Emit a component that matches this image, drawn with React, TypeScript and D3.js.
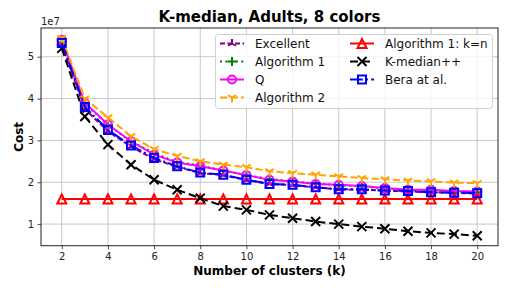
import React, { useEffect, useRef } from 'react';
import * as d3 from 'd3';

// cost values are in units of 1e7
const clusters = [2, 3, 4, 5, 6, 7, 8, 9, 10, 11, 12, 13, 14, 15, 16, 17, 18, 19, 20];
const excellent = [5.30, 3.75, 3.22, 2.85, 2.55, 2.37, 2.22, 2.17, 2.05, 1.96, 1.93, 1.88, 1.83, 1.82, 1.80, 1.78, 1.76, 1.75, 1.73];
const algorithm1 = [5.34, 3.88, 3.37, 2.97, 2.70, 2.48, 2.40, 2.28, 2.17, 2.08, 2.02, 1.97, 1.93, 1.90, 1.85, 1.82, 1.80, 1.78, 1.76];
const qValues = [5.40, 3.90, 3.38, 2.98, 2.66, 2.47, 2.38, 2.28, 2.17, 2.06, 2.02, 1.96, 1.94, 1.91, 1.86, 1.82, 1.82, 1.79, 1.78];
const algorithm2 = [5.45, 4.00, 3.55, 3.10, 2.79, 2.63, 2.50, 2.42, 2.36, 2.26, 2.22, 2.18, 2.14, 2.10, 2.07, 2.04, 2.02, 1.99, 1.98];
const algorithm1kn = [1.6, 1.6, 1.6, 1.6, 1.6, 1.6, 1.6, 1.6, 1.6, 1.6, 1.6, 1.6, 1.6, 1.6, 1.6, 1.6, 1.6, 1.6, 1.6];
const kmedianpp = [5.20, 3.57, 2.90, 2.42, 2.06, 1.82, 1.62, 1.43, 1.34, 1.22, 1.14, 1.06, 1.00, 0.94, 0.89, 0.83, 0.79, 0.76, 0.72];
const bera = [5.33, 3.80, 3.25, 2.88, 2.58, 2.38, 2.23, 2.18, 2.06, 1.96, 1.94, 1.88, 1.83, 1.83, 1.80, 1.79, 1.76, 1.75, 1.74];

const xTicks = [2, 4, 6, 8, 10, 12, 14, 16, 18, 20];
const yTicks = [1, 2, 3, 4, 5];

const series = [
  { name: 'Excellent', values: excellent, color: 'purple', dash: '5,2.5', marker: 'tri_up', size: 9 },
  { name: 'Algorithm 1', values: algorithm1, color: 'green', dash: '2,3.3', marker: 'plus', size: 9 },
  { name: 'Q', values: qValues, color: 'magenta', dash: null, marker: 'circle', size: 8 },
  { name: 'Algorithm 2', values: algorithm2, color: 'orange', dash: '7.4,3.2', marker: 'tri_down', size: 10 },
  { name: 'Algorithm 1: k=n', values: algorithm1kn, color: 'red', dash: null, marker: 'triangle', size: 9 },
  { name: 'K-median++', values: kmedianpp, color: 'black', dash: '8,4', marker: 'x', size: 9 },
  { name: 'Bera at al.', values: bera, color: 'blue', dash: '12.8,3.2,2,3.2', marker: 'square', size: 8 },
];

function markerPath(kind: string, s: number) {
  const h = s / 2;
  const c = 0.866 * h;
  switch (kind) {
    case 'circle':
      return `M${h},0A${h},${h},0,1,1,${-h},0A${h},${h},0,1,1,${h},0Z`;
    case 'square':
      return `M${-h},${-h}H${h}V${h}H${-h}Z`;
    case 'triangle':
      return `M0,${-h}L${h},${h}L${-h},${h}Z`;
    case 'x':
      return `M${-h},${-h}L${h},${h}M${-h},${h}L${h},${-h}`;
    case 'plus':
      return `M${-h},0H${h}M0,${-h}V${h}`;
    case 'tri_down':
      return `M0,0V${h}M0,0L${-c},${-h / 2}M0,0L${c},${-h / 2}`;
    case 'tri_up':
      return `M0,0V${-h}M0,0L${-c},${h / 2}M0,0L${c},${h / 2}`;
  }
  return '';
}

function CostChart() {
  const ref = useRef<SVGSVGElement>(null);

  useEffect(() => {
    drawChart();
  }, []);

  function drawChart() {
    const svg = d3.select(ref.current);
    svg.selectAll('*').remove();

    const width = 509;
    const height = 291;
    const plot = { left: 41, right: 498, top: 28, bottom: 245.7 };
    const font = 'DejaVu Sans, sans-serif';

    // matplotlib style 5% margins
    const yMin = d3.min(series, s => d3.min(s.values))!;
    const yMax = d3.max(series, s => d3.max(s.values))!;
    const yPad = (yMax - yMin) * 0.05;
    const xMin = d3.min(clusters)!;
    const xMax = d3.max(clusters)!;
    const xPad = (xMax - xMin) * 0.05;

    const xScale = d3.scaleLinear().domain([xMin - xPad, xMax + xPad]).range([plot.left, plot.right]);
    const yScale = d3.scaleLinear().domain([yMin - yPad, yMax + yPad]).range([plot.bottom, plot.top]);

    svg.attr('width', width).attr('height', height);
    svg.append('rect').attr('width', width).attr('height', height).attr('fill', 'white');

    // grid
    const grid = svg.append('g').attr('stroke', '#c8c8c8').attr('stroke-width', 1);
    xTicks.forEach(t => {
      grid.append('line')
        .attr('x1', xScale(t)).attr('x2', xScale(t))
        .attr('y1', plot.top).attr('y2', plot.bottom);
    });
    yTicks.forEach(t => {
      grid.append('line')
        .attr('x1', plot.left).attr('x2', plot.right)
        .attr('y1', yScale(t)).attr('y2', yScale(t));
    });

    const clip = svg.append('defs').append('clipPath').attr('id', 'plot-clip');
    clip.append('rect')
      .attr('x', plot.left).attr('y', plot.top)
      .attr('width', plot.right - plot.left).attr('height', plot.bottom - plot.top);

    const line = d3.line<number>()
      .x((d, i) => xScale(clusters[i]))
      .y(d => yScale(d));

    const lines = svg.append('g').attr('clip-path', 'url(#plot-clip)');
    series.forEach(s => {
      const g = lines.append('g');
      g.append('path')
        .attr('d', line(s.values))
        .attr('fill', 'none')
        .attr('stroke', s.color)
        .attr('stroke-width', 2)
        .attr('stroke-dasharray', s.dash);
      g.selectAll('.marker')
        .data(s.values).enter()
        .append('path')
        .attr('class', 'marker')
        .attr('transform', (d, i) => `translate(${xScale(clusters[i])},${yScale(d)})`)
        .attr('d', markerPath(s.marker, s.size))
        .attr('fill', 'none')
        .attr('stroke', s.color)
        .attr('stroke-width', 2);
    });

    // axes
    const xAxis = svg.append('g')
      .attr('transform', `translate(0,${plot.bottom})`)
      .call(d3.axisBottom(xScale).tickValues(xTicks).tickFormat(d3.format('d')).tickSize(3.5).tickPadding(3.5).tickSizeOuter(0));
    const yAxis = svg.append('g')
      .attr('transform', `translate(${plot.left},0)`)
      .call(d3.axisLeft(yScale).tickValues(yTicks).tickFormat(d3.format('d')).tickSize(3.5).tickPadding(3.5).tickSizeOuter(0));
    [xAxis, yAxis].forEach(a => {
      a.select('.domain').remove();
      a.selectAll('line').attr('stroke', '#222').attr('stroke-width', 0.8);
      a.selectAll('text').attr('font-family', font).attr('font-size', 10).attr('fill', '#222');
    });

    svg.append('rect')
      .attr('x', plot.left).attr('y', plot.top)
      .attr('width', plot.right - plot.left).attr('height', plot.bottom - plot.top)
      .attr('fill', 'none').attr('stroke', '#222').attr('stroke-width', 1);

    svg.append('text')
      .attr('x', plot.left).attr('y', 25)
      .attr('font-family', font).attr('font-size', 10).attr('fill', '#222')
      .text('1e7');

    // title and labels
    svg.append('text')
      .attr('x', (plot.left + plot.right) / 2).attr('y', 22)
      .attr('text-anchor', 'middle')
      .attr('font-family', font).attr('font-size', 15).attr('font-weight', 'bold')
      .text('K-median, Adults, 8 colors');
    svg.append('text')
      .attr('x', (plot.left + plot.right) / 2).attr('y', 275)
      .attr('text-anchor', 'middle')
      .attr('font-family', font).attr('font-size', 12).attr('font-weight', 'bold')
      .text('Number of clusters (k)');
    svg.append('text')
      .attr('transform', `translate(22.5,${(plot.top + plot.bottom) / 2}) rotate(-90)`)
      .attr('text-anchor', 'middle')
      .attr('font-family', font).attr('font-size', 12).attr('font-weight', 'bold')
      .text('Cost');

    // legend, 2 columns
    const legend = svg.append('g');
    legend.append('rect')
      .attr('x', 215.5).attr('y', 34.5).attr('width', 277).attr('height', 74).attr('rx', 3)
      .attr('fill', 'white').attr('fill-opacity', 0.8)
      .attr('stroke', '#d0d0d0').attr('stroke-width', 1);
    series.forEach((s, i) => {
      const col = i < 4 ? 0 : 1;
      const row = i < 4 ? i : i - 4;
      const x0 = col === 0 ? 220 : 350;
      const cy = 43.5 + row * 18;
      const item = legend.append('g');
      item.append('line')
        .attr('x1', x0).attr('x2', x0 + 24).attr('y1', cy).attr('y2', cy)
        .attr('stroke', s.color).attr('stroke-width', 2).attr('stroke-dasharray', s.dash);
      item.append('path')
        .attr('transform', `translate(${x0 + 12},${cy})`)
        .attr('d', markerPath(s.marker, s.size))
        .attr('fill', 'none').attr('stroke', s.color).attr('stroke-width', 2);
      item.append('text')
        .attr('x', x0 + 35).attr('y', cy + 4.4)
        .attr('font-family', font).attr('font-size', 12).attr('fill', '#111')
        .text(s.name);
    });
  }

  return <svg ref={ref} style={{ position: 'absolute', left: 0, top: 0 }} />;
}

export default function App() {
  return <CostChart />;
}
